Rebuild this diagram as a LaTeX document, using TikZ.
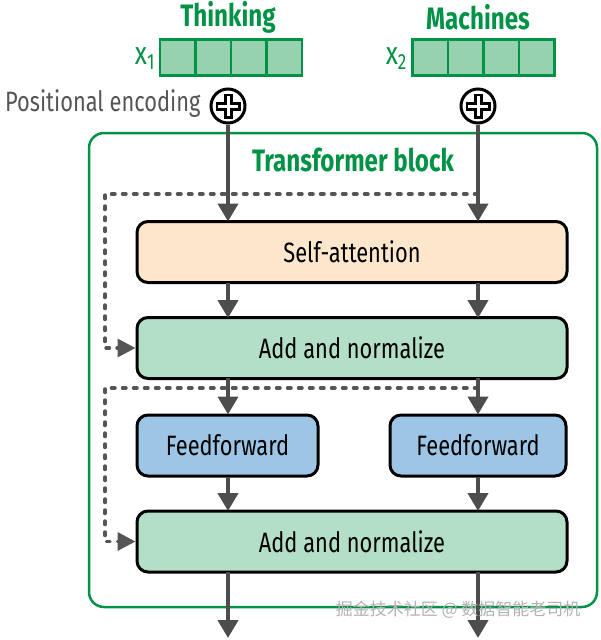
\documentclass[tikz,border=0pt]{standalone}
\usepackage{fontspec}
\setmainfont{Fira Sans}[FakeStretch=0.78]
\newfontfamily\cjkfont{Noto Sans CJK SC}
\usetikzlibrary{arrows.meta,calc}

\definecolor{blockgreen}{RGB}{0,146,69}
\definecolor{cellgreen}{RGB}{150,210,176}
\definecolor{normgreen}{RGB}{178,223,198}
\definecolor{attnorange}{RGB}{252,230,204}
\definecolor{ffblue}{RGB}{157,198,230}
\definecolor{arrowgray}{RGB}{77,77,77}
\definecolor{labelgray}{RGB}{85,85,85}

\tikzset{
  layer/.style={draw=black,line width=3pt,rounded corners=11pt,inner sep=0pt,
    minimum height=61pt,font=\fontsize{28}{30}\selectfont},
  cell/.style={draw=blockgreen,fill=cellgreen,line width=2.5pt,
    minimum width=35.5pt,minimum height=36pt,inner sep=0pt},
  word/.style={text=blockgreen,font=\bfseries\fontsize{31}{32}\selectfont},
  vecname/.style={text=blockgreen,font=\fontsize{32}{32}\selectfont,anchor=east},
  flow/.style={draw=arrowgray,line width=4pt,-{Triangle[length=18pt,width=20pt]}},
  skip/.style={draw=labelgray,line width=3.5pt,line cap=round,
    dash pattern=on 3.5pt off 7.5pt,-{Triangle[length=18pt,width=18pt]}},
  adder/.style={draw=black,circle,line width=3pt,fill=white,minimum size=34pt,inner sep=0pt},
}

\begin{document}
\begin{tikzpicture}[x=1pt,y=-1pt]
  \useasboundingbox (0,0) rectangle (600,640);
  % inputs
  \node[word] (w1) at (228,17) {Thinking};
  \node[word] (w2) at (478,17) {Machines};
  \foreach \i in {0,...,3}{
    \node[cell] (a\i) at (177.75+35.5*\i,57.5) {};
    \node[cell] (b\i) at (430.25+35.5*\i,57.5) {};
  }
  \node[vecname] (x1) at (158,59) {x{\fontsize{22}{22}\selectfont\raisebox{-5pt}{1}}};
  \node[vecname] (x2) at (410,59) {x{\fontsize{22}{22}\selectfont\raisebox{-5pt}{2}}};
  \node[adder] (p1) at (228,106) {};
  \node[adder] (p2) at (478,106) {};
  \foreach \p in {p1,p2}{
    \draw[line width=9pt] ([xshift=-12.5pt]\p.center) -- ([xshift=12.5pt]\p.center);
    \draw[line width=9pt] ([yshift=-12.5pt]\p.center) -- ([yshift=12.5pt]\p.center);
    \draw[line width=3pt,white] ([xshift=-10pt]\p.center) -- ([xshift=10pt]\p.center);
    \draw[line width=3pt,white] ([yshift=-10pt]\p.center) -- ([yshift=10pt]\p.center);
  }
  \node[text=labelgray,font=\fontsize{28}{30}\selectfont,anchor=east] (pos) at (204,104) {Positional encoding};

  % block
  \node[draw=blockgreen,line width=2.5pt,rounded corners=15pt,minimum width=508pt,minimum height=474pt] (block) at (343,370) {};
  \node[word] (title) at (353,160) {Transformer block};
  \node[layer,fill=attnorange,minimum width=430pt] (sa) at (352,252) {Self-attention};
  \node[layer,fill=normgreen,minimum width=430pt] (an1) at (352,348) {Add and normalize};
  \node[layer,fill=ffblue,minimum width=181pt] (ff1) at (227.5,445.5) {Feedforward};
  \node[layer,fill=ffblue,minimum width=176pt] (ff2) at (478,445.5) {Feedforward};
  \node[layer,fill=normgreen,minimum width=430pt] (an2) at (352,541.5) {Add and normalize};

  % residual paths
  \coordinate (s1) at (478,194);
  \coordinate (s2) at (478,388);
  \draw[skip] (s1) -- (105,194) |- (an1.west);
  \draw[skip] (s2) -- (105,388) |- (an2.west);

  % arrows
  \foreach \p/\x in {p1/228,p2/478}{
    \draw[flow] (\p.south) -- (\x,221.5);
    \draw[flow] (\x,282.5) -- (\x,318);
    \draw[flow] (\x,378) -- (\x,414.5);
    \draw[flow] (\x,476.5) -- (\x,511);
    \draw[flow] (\x,572) -- (\x,638);
  }

  \node[text=gray!60,font=\cjkfont\fontsize{17}{17}\selectfont,anchor=east] (mark) at (584,610) {掘金技术社区 @ 数据智能老司机};
\end{tikzpicture}
\end{document}
